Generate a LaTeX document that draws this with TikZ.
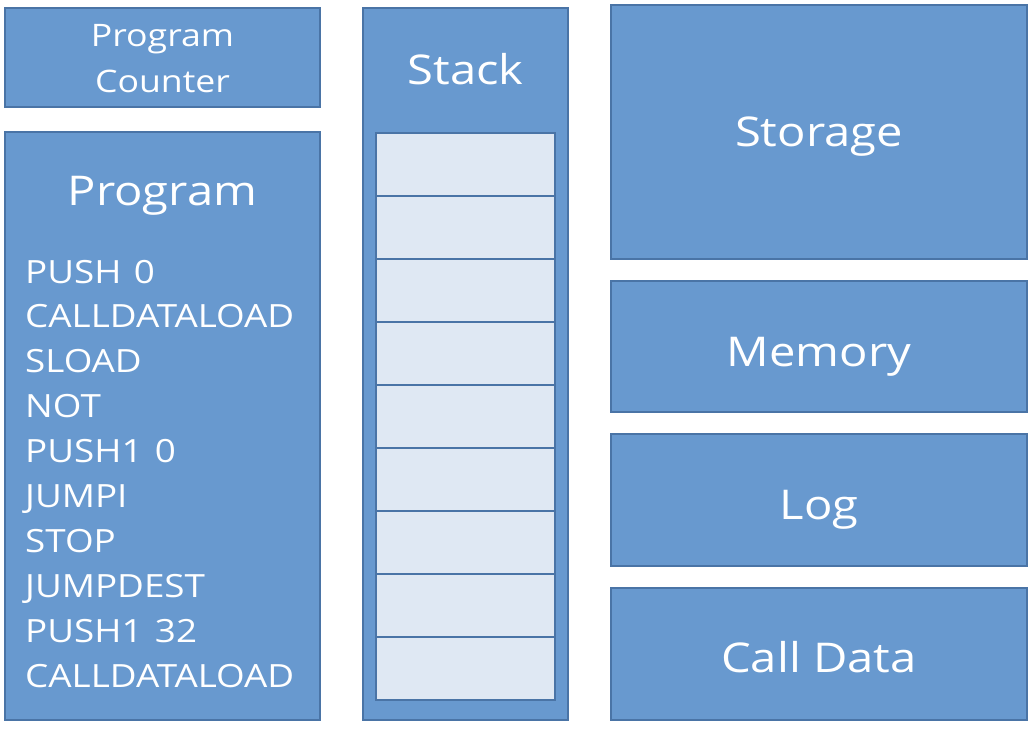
\documentclass[tikz,border=0pt]{standalone}
\usepackage{fontspec}
\setmainfont{Open Sans}[FakeStretch=1.15]
\newfontfamily\listfont{Open Sans}[FakeStretch=1.15, WordSpace=1.3]
\definecolor{boxfill}{HTML}{6899CF}
\definecolor{boxline}{HTML}{4A74A6}
\definecolor{cellfill}{HTML}{DFE8F3}
\begin{document}
\begin{tikzpicture}[x=1pt,y=-1pt,
  box/.style={draw=boxline, fill=boxfill, line width=1.3pt, inner sep=0pt},
  cell/.style={draw=boxline, fill=cellfill, line width=1.3pt, inner sep=0pt, minimum width=179pt, minimum height=63pt},
  title/.style={text=white, inner sep=0pt, font=\fontsize{41}{48}\selectfont},
  small/.style={text=white, inner sep=0pt, font=\fontsize{31}{36}\selectfont},
  listing/.style={text=white, inner sep=0pt, font=\listfont\fontsize{32}{36}\selectfont}]
\useasboundingbox (0,0) rectangle (1036,730);
% left column
\node[box, minimum width=315pt, minimum height=99pt] (pc) at (162.5,57.5) {};
\node[small, anchor=base] (pct1) at (162.5,47) {Program};
\node[small, anchor=base] (pct2) at (162.5,93) {Counter};
\node[box, minimum width=315pt, minimum height=588pt] (prog) at (162.5,426) {};
\node[title, anchor=base] (progt) at (162.5,206) {Program};
\foreach \t [count=\i] in {PUSH 0, CALLDATALOAD, SLOAD, NOT, PUSH1 0, JUMPI, STOP, JUMPDEST, PUSH1 32, CALLDATALOAD}
  \node[listing, anchor=base west] (l\i) at (25, {283+44.9*(\i-1)}) {\t};
% stack
\node[box, minimum width=205pt, minimum height=712pt] (stack) at (465.5,364) {};
\node[title, anchor=base] (stackt) at (465.5,85) {Stack};
\foreach \i in {1,...,9}
  \node[cell] (c\i) at (465.5, {133+31.5+63*(\i-1)}) {};
% right column
\node[box, minimum width=416pt, minimum height=254pt] (storage) at (819,132) {};
\node[title, anchor=base] (storaget) at (819,147) {Storage};
\node[box, minimum width=416pt, minimum height=131pt] (memory) at (819,346.5) {};
\node[title, anchor=base] (memoryt) at (819,366) {Memory};
\node[box, minimum width=416pt, minimum height=132pt] (log) at (819,500) {};
\node[title, anchor=base] (logt) at (819,519) {Log};
\node[box, minimum width=416pt, minimum height=132pt] (calldata) at (819,654) {};
\node[title, anchor=base] (calldatat) at (819,672) {Call Data};
\end{tikzpicture}
\end{document}
